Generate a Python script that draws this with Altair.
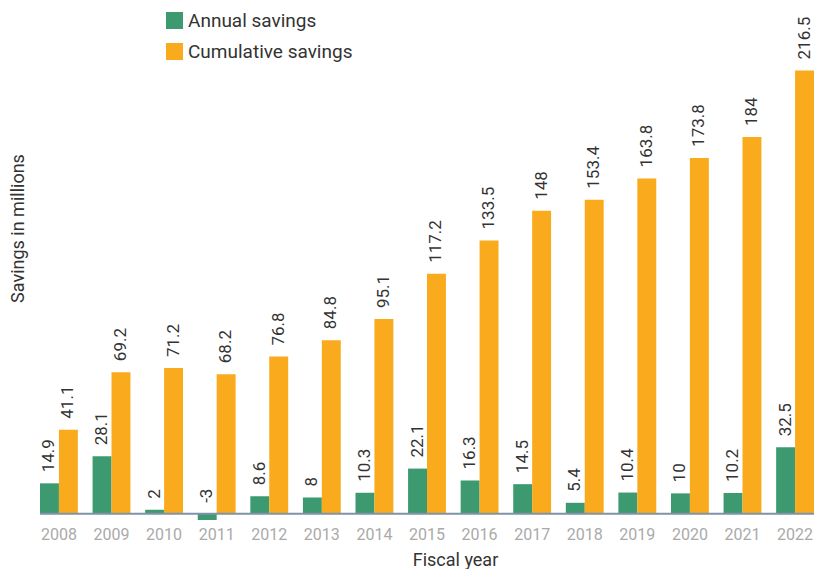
import altair as alt
import pandas as pd

years = [str(y) for y in range(2008, 2023)]
annual = [14.9, 28.1, 2, -3, 8.6, 8, 10.3, 22.1, 16.3, 14.5, 5.4, 10.4, 10, 10.2, 32.5]
cumulative = [41.1, 69.2, 71.2, 68.2, 76.8, 84.8, 95.1, 117.2, 133.5, 148, 153.4, 163.8, 173.8, 184, 216.5]
series = ["Annual savings", "Cumulative savings"]
colors = ["#3d9a70", "#f9ab1d"]

rows = []
for i, y in enumerate(years):
    rows.append({"year": y, "series": series[0], "value": annual[i], "label": f"{annual[i]:g}"})
    rows.append({"year": y, "series": series[1], "value": cumulative[i], "label": f"{cumulative[i]:g}"})
df = pd.DataFrame(rows)

FONT = "Roboto"

x = alt.X("year:N", title="Fiscal year",
          scale=alt.Scale(paddingInner=0.28, paddingOuter=0),
          axis=alt.Axis(labelAngle=0, domain=False, ticks=False, labelColor="#aaaaaa",
                        labelFontSize=16, labelFont=FONT, labelPadding=6,
                        titleFont=FONT, titleFontSize=18, titleFontWeight="normal",
                        titleColor="#333333", titlePadding=9, titleX=415))
yscale = alt.Scale(domain=[-3, 247], nice=False, zero=False)

base = alt.Chart(df)

bars = base.mark_bar().encode(
    x=x,
    xOffset=alt.XOffset("series:N", sort=series, scale=alt.Scale(paddingInner=0, paddingOuter=0)),
    y=alt.Y("value:Q", scale=yscale,
            axis=alt.Axis(labels=False, ticks=False, domain=False, grid=False,
                          title="Savings in millions", titleFont=FONT, titleFontSize=18,
                          titleFontWeight="normal", titleColor="#333333", titleY=220,
                          titlePadding=13)),
    y2=alt.datum(0),
    color=alt.Color("series:N", sort=series,
                    scale=alt.Scale(domain=series, range=colors),
                    legend=alt.Legend(title=None, orient="none", legendX=125, legendY=3,
                                      symbolType="square", symbolSize=290, symbolStrokeWidth=0,
                                      labelFont=FONT, labelFontSize=19, labelColor="#333333",
                                      labelLimit=400, rowPadding=11, padding=0, symbolOpacity=1)),
)

labels = base.transform_calculate(
    ly="max(datum.value, 0)"
).mark_text(angle=270, align="left", baseline="middle", dx=11,
            font=FONT, fontSize=17, color="#333333").encode(
    x=alt.X("year:N"),
    xOffset=alt.XOffset("series:N", sort=series),
    y=alt.Y("ly:Q", scale=yscale),
    text=alt.Text("label:N"),
)

zero = alt.Chart(pd.DataFrame({"z": [0]})).mark_rule(color="#7f93a8", strokeWidth=2).encode(
    y=alt.Y("z:Q", scale=yscale)
)

chart = alt.layer(bars, zero, labels).properties(
    width=774, height=512,
    autosize=alt.AutoSizeParams(type="none"),
    padding={"left": 32, "top": 0, "right": 0, "bottom": 49},
).configure_view(stroke=None)

chart.save("out.html", embed_options={"renderer": "svg", "actions": False})
